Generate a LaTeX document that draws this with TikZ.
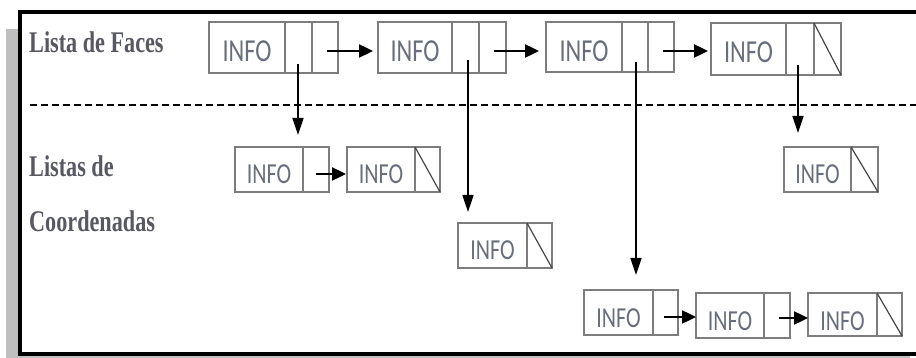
\documentclass[tikz,border=0pt]{standalone}
\usepackage{fontspec}
\usepackage{graphicx}
\usetikzlibrary{arrows.meta}
\newfontfamily\infofont{Carlito}
\newfontfamily\labfont{Liberation Serif}
\definecolor{boxgray}{RGB}{125,125,125}
\definecolor{nullgray}{RGB}{70,70,70}
\definecolor{infogray}{RGB}{105,110,125}
\definecolor{labgray}{RGB}{88,88,98}
\definecolor{shadowgray}{RGB}{191,191,191}
\newcommand\sx[2]{\scalebox{#1}[1]{#2}}
\newcommand\lnode[8]{%
  \pgfmathsetmacro\lnW{#4-#2}%
  \pgfmathsetmacro\lnH{#5-#3}%
  \pgfmathsetmacro\lnX{(#2+#6)/2}%
  \pgfmathsetmacro\lnY{#3+#8}%
  \node[boxst, minimum width=\lnW pt, minimum height=\lnH pt, anchor=north west] (#1) at (#2,#3) {};
  \draw[cellst] (#6,#3) -- (#6,#5);
  \node[#7, anchor=base] (#1t) at (\lnX,\lnY) {\sx{0.76}{INFO}};
}
\tikzset{
  boxst/.style={draw=boxgray, line width=1.2pt, inner sep=0pt, outer sep=0pt},
  cellst/.style={draw=boxgray, line width=1.2pt},
  nullst/.style={draw=nullgray, line width=1.2pt},
  infobig/.style={text=infogray, font=\infofont\fontsize{32}{34}\selectfont, inner sep=0pt},
  infosmall/.style={text=infogray, font=\infofont\fontsize{29}{31}\selectfont, inner sep=0pt},
  labst/.style={text=labgray, font=\labfont\bfseries\fontsize{30}{32}\selectfont, inner sep=0pt, anchor=base west},
  harrow/.style={-{Triangle[length=14pt,width=13pt]}, line width=2.4pt, black},
  varrow/.style={-{Triangle[length=17pt,width=11pt]}, line width=1.5pt, black},
  dashline/.style={line width=2pt, dash pattern=on 7pt off 4pt, black},
}
\begin{document}
\begin{tikzpicture}[x=1pt,y=-1pt]
  \clip (0,0) rectangle (916,358);
  \fill[white] (0,0) rectangle (916,358);
  % shadow and frame
  \fill[shadowgray] (6,29) rectangle (910,358);
  \fill[white] (20,11.75) rectangle (940,353.5);
  \draw[black, line width=4pt] (20,11.75) rectangle (940,353.5);
  % separator
  \draw[dashline] (30,105) -- (916,105);
  % labels
  \node[labst] (lab1) at (29,53) {\sx{0.74}{Lista de Faces}};
  \node[labst] (lab2) at (29,177) {\sx{0.74}{Listas de}};
  \node[labst] (lab3) at (29,232) {\sx{0.74}{Coordenadas}};
  % face list
  \lnode{b1}{209}{22}{338}{73}{285}{infobig}{40}
  \draw[cellst] (312,22) -- (312,73);
  \lnode{b2}{378}{22}{506}{73}{452}{infobig}{40}
  \draw[cellst] (479,22) -- (479,73);
  \lnode{b3}{546}{22}{674}{72}{622}{infobig}{40}
  \draw[cellst] (648,22) -- (648,72);
  \lnode{b4}{711}{23}{841}{75}{786}{infobig}{40}
  \draw[cellst] (814,23) -- (814,75);
  \draw[nullst] (814,23) -- (841,75);
  % coordinate lists
  \lnode{l1}{235}{147}{329}{192}{303}{infosmall}{37}
  \lnode{l2}{347}{147}{440}{192}{415}{infosmall}{37}
  \draw[nullst] (415,147) -- (440,192);
  \lnode{m1}{458}{223}{552}{268}{527}{infosmall}{37}
  \draw[nullst] (527,223) -- (552,268);
  \lnode{r1}{784}{147}{878}{192}{851}{infosmall}{37}
  \draw[nullst] (851,147) -- (878,192);
  \lnode{c1}{584}{290}{678}{335}{653}{infosmall}{37}
  \lnode{c2}{696}{293}{790}{338}{764}{infosmall}{37}
  \lnode{c3}{808}{293}{902}{336}{877}{infosmall}{37}
  \draw[nullst] (877,293) -- (902,336);
  % pointer origins
  \coordinate (b1p) at (327,51);
  \coordinate (b2p) at (494,51);
  \coordinate (b3p) at (663,51);
  \coordinate (l1p) at (316,174);
  \coordinate (c1p) at (664,317);
  \coordinate (c2p) at (779,318);
  \coordinate (b1d) at (298,64);
  \coordinate (b2d) at (468,60);
  \coordinate (b3d) at (636,62);
  \coordinate (b4d) at (798,65);
  % next pointers
  \draw[harrow, shorten >=5pt] (b1p) -- (b1p -| b2.west);
  \draw[harrow, shorten >=7pt] (b2p) -- (b2p -| b3.west);
  \draw[harrow, shorten >=3pt] (b3p) -- (b3p -| b4.west);
  \draw[harrow, shorten >=1pt] (l1p) -- (l1p -| l2.west);
  \draw[harrow, shorten >=0pt] (c1p) -- (c1p -| c2.west);
  \draw[harrow, shorten >=0pt] (c2p) -- (c2p -| c3.west);
  % down pointers
  \draw[varrow, shorten >=12pt] (b1d) -- (b1d |- l1.north);
  \draw[varrow, shorten >=11pt] (b2d) -- (b2d |- m1.north);
  \draw[varrow, shorten >=15pt] (b3d) -- (b3d |- c1.north);
  \draw[varrow, shorten >=14pt] (b4d) -- (b4d |- r1.north);
\end{tikzpicture}
\end{document}
